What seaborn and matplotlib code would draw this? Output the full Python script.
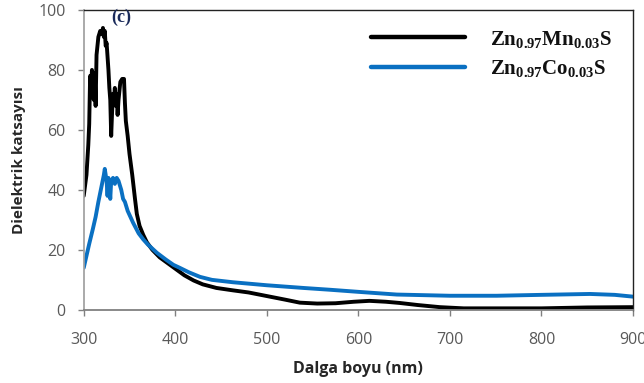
import numpy as np
import pandas as pd
import matplotlib
matplotlib.use("Agg")
import matplotlib.pyplot as plt
import seaborn as sns

# wavelength (nm) and dielectric constant
wl_mn = [300, 303, 305, 306, 307, 308, 309, 311, 312, 313, 314, 316, 318, 320, 321, 322, 323, 324,
         325, 327, 328, 329, 330, 331, 332, 333, 334, 335, 336, 337, 338, 340, 342, 344, 345, 346,
         348, 350, 353, 356, 358, 361, 365, 369, 375, 383, 392, 401, 410, 420, 430, 445, 463, 480,
         500, 520, 536, 555, 575, 595, 612, 630, 645, 665, 689, 715, 750, 800, 850, 900]
eps_mn = [38, 45, 55, 62, 78, 74, 80, 70, 79, 68, 85, 91, 93, 92, 94, 91, 93, 88,
          89, 80, 74, 70, 58, 66, 72, 70, 74, 68, 72, 65, 70, 76, 77, 77, 69, 63,
          58, 52, 45, 37, 32, 28, 25, 22.5, 20, 17.5, 15.5, 13.5, 11.5, 9.8, 8.5, 7.3, 6.5, 5.8,
          4.6, 3.4, 2.4, 2.1, 2.2, 2.7, 3.0, 2.7, 2.3, 1.6, 0.9, 0.5, 0.5, 0.5, 0.8, 0.9]

wl_co = [300, 303, 306, 310, 313, 316, 318, 320, 322, 323, 324, 325, 326, 327, 328, 329, 330, 332,
         334, 336, 338, 339, 341, 343, 345, 348, 351, 354, 360, 365, 370, 380, 390, 398, 405, 415,
         427, 440, 463, 500, 540, 569, 600, 642, 700, 751, 800, 853, 880, 900]
eps_co = [14, 18, 22, 27, 31, 36, 39, 42, 45, 47, 45, 43, 38, 44, 42, 37, 43, 44,
          42, 44, 43, 42, 40, 37, 36, 33, 31, 29, 25.5, 23.5, 21.8, 19, 16.7, 15, 14, 12.5,
          11, 10, 9.2, 8.2, 7.3, 6.7, 6, 5.1, 4.7, 4.7, 5, 5.3, 5, 4.4]

labels = ["Zn$_{0.97}$Mn$_{0.03}$S", "Zn$_{0.97}$Co$_{0.03}$S"]
colors = ["#000000", "#0a70c2"]

df = pd.concat([
    pd.DataFrame({"wl": wl_mn, "eps": eps_mn, "sample": labels[0]}),
    pd.DataFrame({"wl": wl_co, "eps": eps_co, "sample": labels[1]}),
])

sns.set_theme(style="white")
plt.rcParams["mathtext.fontset"] = "custom"
plt.rcParams["mathtext.rm"] = "Liberation Serif:bold"
plt.rcParams["mathtext.it"] = "Liberation Serif:bold"
plt.rcParams["mathtext.bf"] = "Liberation Serif:bold"

fig = plt.figure(figsize=(6.44, 3.83), dpi=100)
ax = fig.add_axes([0.130, 0.191, 0.853, 0.783])

sns.lineplot(data=df, x="wl", y="eps", hue="sample", palette=colors, linewidth=2.8,
             sort=False, estimator=None, ax=ax)

ax.set_xlim(300, 900)
ax.set_ylim(0, 100)
ax.set_xticks(range(300, 901, 100))
ax.set_yticks(range(0, 101, 20))

tick_col = "#595959"
ax.tick_params(axis="both", colors="#808080", labelcolor=tick_col, labelsize=11.5,
               length=4, width=1, direction="out", left=True, bottom=True)
ax.tick_params(axis="x", pad=12)
ax.tick_params(axis="y", pad=9)
for lab in ax.get_xticklabels() + ax.get_yticklabels():
    lab.set_fontfamily("Open Sans")
ax.spines["left"].set_color("#a0a0a0")
ax.spines["bottom"].set_color("#808080")
ax.spines["bottom"].set_linewidth(1.3)
for s in ["top", "right"]:
    ax.spines[s].set_color("#222222")
    ax.spines[s].set_linewidth(1.0)

ax.set_xlabel("Dalga boyu (nm)", fontsize=11.5, fontweight="bold", family="Open Sans", labelpad=9)
ax.set_ylabel("Dielektrik katsayısı", fontsize=11, fontweight="bold", family="Open Sans", labelpad=9)

ax.text(330, 97.5, "(c)", fontsize=13, fontweight="bold", family="Liberation Serif",
        color="#1a2a5a", ha="left", va="center")

handles, _ = ax.get_legend_handles_labels()
for h in handles:
    h.set_linewidth(3.2)
leg = ax.legend(handles, labels, loc="upper right", frameon=False,
                prop={"family": "Liberation Serif", "weight": "bold", "size": 15},
                handlelength=4.5, handletextpad=1.2, labelspacing=0.4,
                bbox_to_anchor=(0.995, 1.0))
for t in leg.get_texts():
    t.set_color("#111111")

fig.savefig("out.png", dpi=100)
